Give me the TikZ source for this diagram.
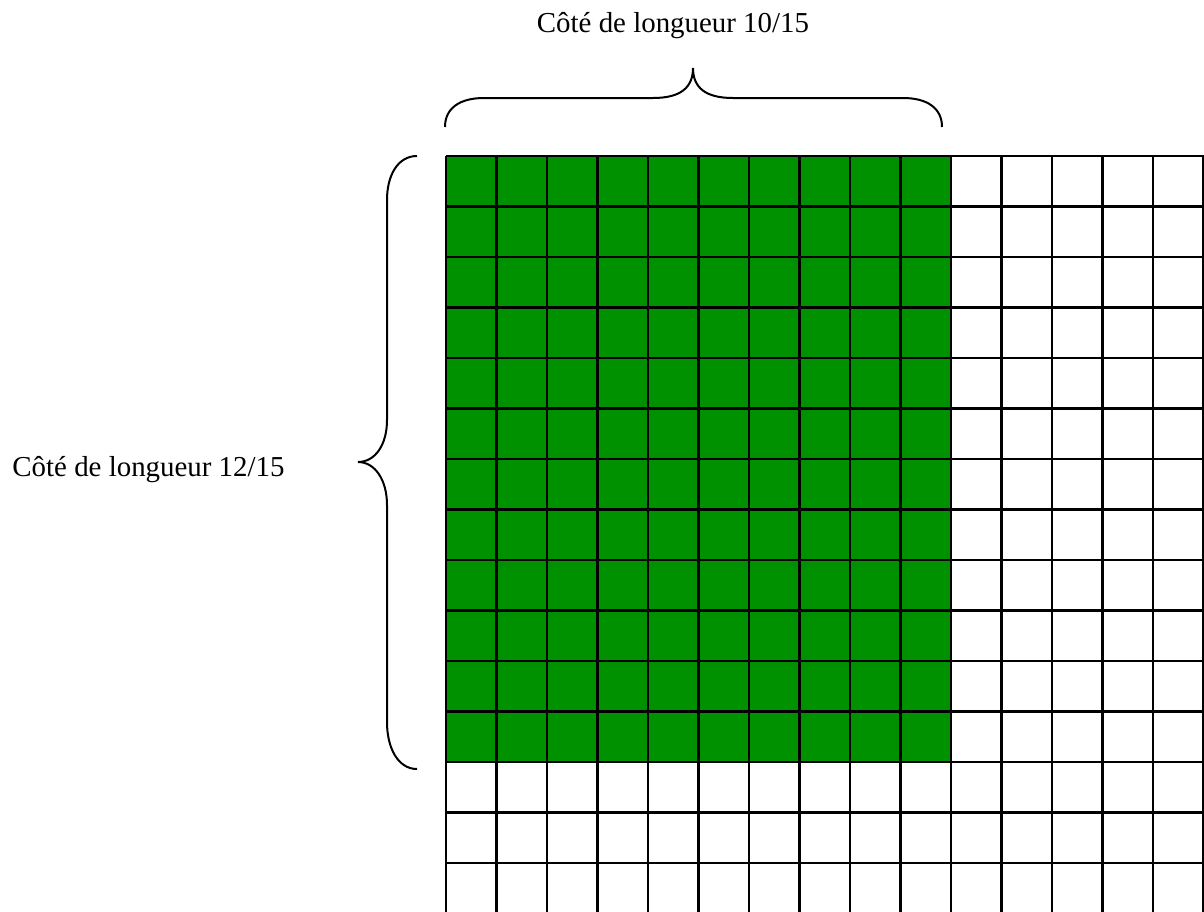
\documentclass[tikz,border=0pt]{standalone}
\usepackage{fontspec}
\setmainfont{Liberation Serif}
\definecolor{vertcase}{RGB}{0,145,0}
\begin{document}
\begin{tikzpicture}[x=0.5pt, y=-0.5pt, every node/.style={font=\fontsize{14.45}{17}\selectfont, inner sep=0pt}]
    \useasboundingbox (0,0) rectangle (1204,911);
    \fill[vertcase] (446,156) rectangle (951,762);
    \begin{scope}
        \clip (0,0) rectangle (1204,911);
        \foreach \i in {0,...,15}{
            \pgfmathsetmacro{\xx}{446+50.5*\i}
            \draw[line width=1.2pt] (\xx,156) -- (\xx,920);
        }
        \foreach \j in {0,...,15}{
            \pgfmathsetmacro{\yy}{156+50.5*\j}
            \draw[line width=1.2pt] (446,\yy) -- (1210,\yy);
        }
    \end{scope}
    \draw[line width=1pt] (445,127) .. controls (445,108) and (460,98) .. (484,98)
        -- (653,98) .. controls (680,98) and (693,88) .. (693,68)
        .. controls (693,88) and (706,98) .. (733,98)
        -- (903,98) .. controls (927,98) and (942,108) .. (942,127);
    \draw[line width=1pt] (417,156) .. controls (398,156) and (387,175) .. (387,200)
        -- (387,420) .. controls (387,445) and (375,462) .. (358,462)
        .. controls (375,462) and (387,480) .. (387,505)
        -- (387,722) .. controls (387,748) and (398,769) .. (417,769);
    \node[anchor=base] (lbl10) at (673,32) {Côté de longueur 10/15};
    \node[anchor=base] (lbl12) at (148.5,476) {Côté de longueur 12/15};
\end{tikzpicture}
\end{document}
